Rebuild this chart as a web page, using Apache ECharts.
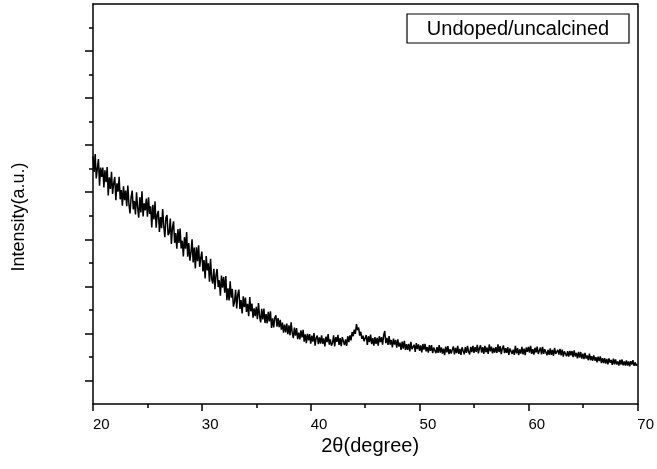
<!DOCTYPE html>
<html>
<head>
<meta charset="utf-8">
<script src="https://cdn.jsdelivr.net/npm/echarts@6/dist/echarts.min.js"></script>
<style>
  html, body { margin: 0; padding: 0; background: #fff; }
  #main { width: 657px; height: 469px; }
</style>
</head>
<body>
<div id="main"></div>
<script>
// 2theta start and step of the scan
const thetaStart = 20
const thetaStep = 0.1

// intensity (a.u.), one row per degree
const intensity = [
  1053, 986, 1062, 959, 1000, 1041, 928, 1005, 965, 1005,
  920, 993, 943, 1007, 886, 963, 914, 987, 893, 938,
  965, 866, 938, 902, 966, 870, 909, 843, 925, 866,
  907, 841, 928, 849, 810, 879, 907, 827, 863, 806,
  900, 834, 792, 879, 814, 904, 797, 853, 823, 873,
  796, 878, 808, 840, 750, 847, 784, 861, 749, 803,
  821, 731, 794, 747, 829, 758, 709, 792, 803, 717,
  727, 788, 680, 750, 776, 685, 726, 660, 743, 684,
  746, 661, 694, 627, 709, 660, 731, 626, 684, 609,
  644, 700, 602, 665, 576, 666, 607, 674, 583, 621,
  648, 563, 612, 534, 629, 568, 598, 520, 617, 532,
  512, 575, 488, 548, 574, 497, 526, 460, 546, 494,
  540, 473, 544, 441, 492, 440, 521, 452, 489, 414,
  434, 485, 406, 467, 486, 404, 442, 385, 458, 412,
  452, 391, 426, 373, 455, 394, 427, 367, 407, 373,
  413, 360, 429, 375, 347, 405, 359, 406, 344, 382,
  343, 392, 351, 394, 323, 364, 325, 366, 377, 329,
  365, 327, 358, 316, 346, 303, 337, 304, 342, 297,
  334, 292, 347, 303, 280, 325, 290, 323, 276, 303,
  275, 313, 283, 315, 265, 296, 259, 298, 270, 297,
  256, 291, 265, 301, 248, 281, 291, 254, 283, 257,
  292, 256, 279, 245, 286, 263, 297, 252, 275, 248,
  259, 292, 245, 284, 264, 294, 251, 280, 246, 284,
  282, 250, 275, 247, 288, 263, 292, 270, 306, 288,
  316, 298, 340, 314, 325, 291, 307, 277, 290, 267,
  260, 293, 251, 288, 263, 295, 254, 280, 248, 284,
  256, 281, 248, 288, 263, 284, 252, 292, 310, 259,
  281, 251, 289, 252, 272, 241, 278, 252, 272, 240,
  275, 244, 261, 230, 265, 235, 268, 230, 254, 230,
  256, 224, 264, 233, 225, 252, 221, 259, 233, 253,
  226, 249, 219, 255, 231, 256, 224, 242, 218, 250,
  226, 250, 216, 240, 246, 216, 242, 217, 250, 218,
  241, 214, 235, 208, 244, 219, 246, 212, 233, 215,
  220, 245, 211, 238, 216, 247, 213, 234, 209, 241,
  236, 211, 242, 217, 247, 222, 211, 243, 221, 247,
  217, 242, 222, 251, 215, 238, 249, 218, 242, 213,
  247, 220, 240, 213, 253, 224, 244, 215, 238, 218,
  242, 217, 253, 221, 246, 212, 236, 249, 216, 237,
  217, 242, 209, 236, 242, 213, 231, 209, 247, 215,
  237, 208, 232, 214, 243, 211, 235, 208, 240, 222,
  243, 218, 247, 213, 233, 210, 239, 219, 244, 213,
  217, 240, 211, 243, 213, 233, 240, 207, 230, 209,
  236, 209, 230, 205, 238, 213, 206, 230, 210, 234,
  207, 231, 201, 224, 232, 203, 225, 201, 226, 207,
  225, 199, 228, 202, 217, 194, 222, 197, 221, 193,
  214, 191, 217, 193, 206, 186, 214, 186, 203, 184,
  207, 184, 199, 177, 201, 182, 202, 174, 195, 174,
  195, 172, 192, 168, 194, 176, 187, 166, 193, 169,
  190, 168, 181, 163, 187, 168, 189, 164, 181, 163,
  185, 163, 181, 160, 182, 168, 186, 162, 177, 163,
  170
]

// y tick positions (no labels on this axis)
const yMajorTicks = [100, 300, 500, 700, 900, 1100, 1300, 1500]
const yMinorTicks = [200, 400, 600, 800, 1000, 1200, 1400, 1600]

const legendText = 'Undoped/uncalcined'

const points = intensity.map((v, i) => [+(thetaStart + i * thetaStep).toFixed(1), v])

const font = '"Liberation Sans", Arial, sans-serif'
const black = '#000'

const myChart = echarts.init(document.getElementById('main'), null, { renderer: 'canvas' })

myChart.setOption({
  animation: false,
  grid: { left: 93, right: 16, top: 4, bottom: 65 },
  xAxis: [
    {
      type: 'value',
      min: 20,
      max: 70,
      interval: 10,
      name: '2θ(degree)',
      nameLocation: 'middle',
      nameGap: 30,
      nameTextStyle: { color: black, fontSize: 20, fontFamily: font, padding: [0, 0, 0, 10] },
      axisLine: { onZero: false, lineStyle: { color: black, width: 1.5 } },
      axisTick: { inside: false, length: 7, lineStyle: { color: black, width: 1.5 } },
      minorTick: { show: true, splitNumber: 2, length: 4, lineStyle: { color: black, width: 1.5 } },
      axisLabel: { color: black, fontSize: 15, fontFamily: font, margin: 13, align: 'left' },
      splitLine: { show: false }
    },
    {
      type: 'value',
      position: 'top',
      min: 20,
      max: 70,
      axisLine: { onZero: false, lineStyle: { color: black, width: 1.5 } },
      axisTick: { show: false },
      axisLabel: { show: false },
      splitLine: { show: false }
    }
  ],
  yAxis: [
    {
      type: 'value',
      min: 0,
      max: 1700,
      position: 'left',
      axisLine: { show: true, onZero: false, lineStyle: { color: black, width: 1.5 } },
      axisTick: { show: true, length: 8, customValues: yMajorTicks, lineStyle: { color: black, width: 1.5 } },
      axisLabel: { show: false },
      splitLine: { show: false }
    },
    {
      type: 'value',
      min: 0,
      max: 1700,
      position: 'left',
      axisLine: { show: false },
      axisTick: { show: true, length: 4, customValues: yMinorTicks, lineStyle: { color: black, width: 1.5 } },
      axisLabel: { show: false },
      splitLine: { show: false }
    },
    {
      type: 'value',
      min: 0,
      max: 1700,
      position: 'right',
      axisLine: { show: true, onZero: false, lineStyle: { color: black, width: 1.5 } },
      axisTick: { show: false },
      axisLabel: { show: false },
      splitLine: { show: false }
    }
  ],
  graphic: [
    {
      type: 'text',
      x: 19,
      y: 217,
      rotation: Math.PI / 2,
      style: {
        text: 'Intensity(a.u.)',
        fill: black,
        font: '18px ' + font,
        align: 'center',
        verticalAlign: 'middle'
      }
    },
    {
      type: 'rect',
      shape: { x: 407, y: 14, width: 222, height: 29 },
      style: { fill: '#fff', stroke: black, lineWidth: 1.2 },
      z: 10
    },
    {
      type: 'text',
      x: 518,
      y: 29,
      style: {
        text: legendText,
        fill: black,
        font: '20px ' + font,
        align: 'center',
        verticalAlign: 'middle'
      },
      z: 11
    }
  ],
  series: [
    {
      type: 'line',
      data: points,
      showSymbol: false,
      symbol: 'none',
      lineStyle: { color: black, width: 1.5 },
      silent: true
    }
  ]
})
</script>
</body>
</html>
